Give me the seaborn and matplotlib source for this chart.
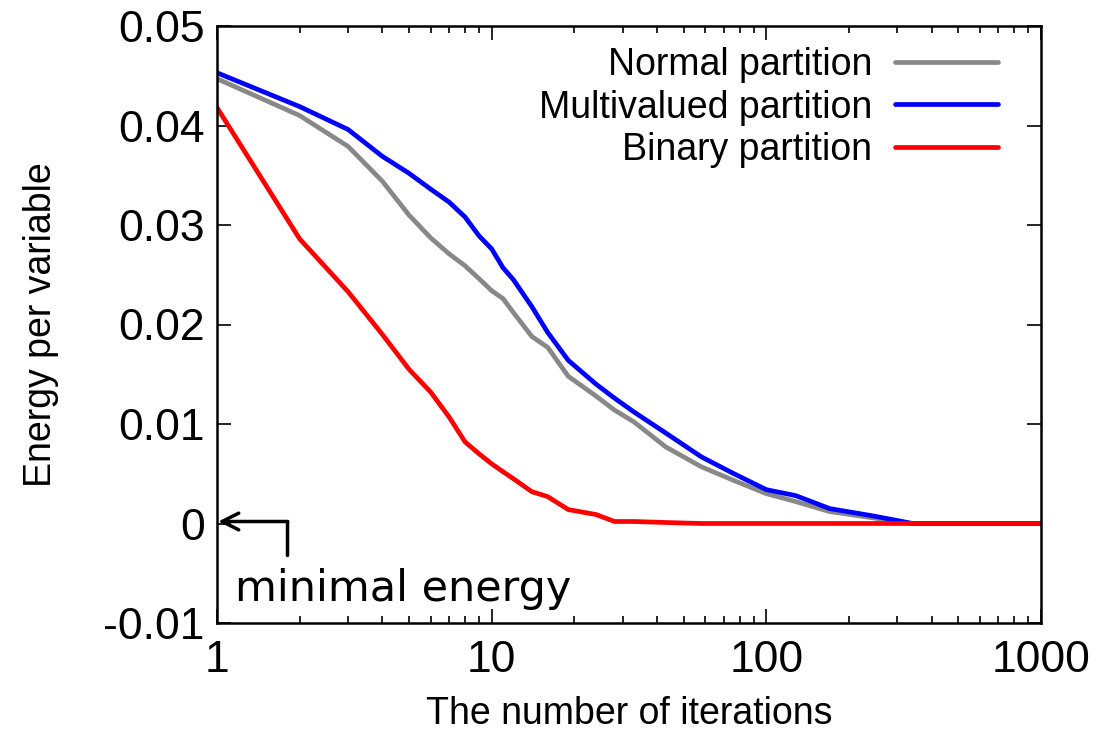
import matplotlib
matplotlib.use("Agg")
import matplotlib.pyplot as plt
import seaborn as sns
import pandas as pd

# iterations (log axis)
iters = [1, 2, 3, 4, 5, 6, 7, 8, 9, 10, 11, 12, 14, 16, 19, 24, 28, 33,
         43, 58, 75, 100, 128, 170, 240, 300, 340, 1000]

normal = [0.0447, 0.0410, 0.0379, 0.0344, 0.0310, 0.0287, 0.0271, 0.0259,
          0.0246, 0.0234, 0.0226, 0.0212, 0.0188, 0.0177, 0.0148, 0.0128,
          0.0114, 0.0102, 0.0077, 0.0057, 0.0044, 0.0030, 0.0022, 0.0012,
          0.0006, 0.0002, 0.0, 0.0]

multivalued = [0.0453, 0.0419, 0.0396, 0.0369, 0.0352, 0.0336, 0.0323,
               0.0308, 0.0289, 0.0276, 0.0257, 0.0245, 0.0218, 0.0192,
               0.0164, 0.0140, 0.0126, 0.0112, 0.0091, 0.0067, 0.0051,
               0.0034, 0.0028, 0.0015, 0.0008, 0.0003, 0.0, 0.0]

binary = [0.0418, 0.0286, 0.0233, 0.0190, 0.0155, 0.0132, 0.0107, 0.0082,
          0.0070, 0.0060, 0.0052, 0.0045, 0.0032, 0.0027, 0.0014, 0.0009,
          0.0002, 0.0002, 0.0001, 0.0, 0.0, 0.0, 0.0, 0.0, 0.0, 0.0, 0.0, 0.0]

series = ["Normal partition", "Multivalued partition", "Binary partition"]
colors = ["#888888", "#0000ff", "#ff0000"]

sns.set_style("ticks")
plt.rcParams["font.family"] = ["Liberation Sans", "DejaVu Sans"]
plt.rcParams["text.color"] = "black"
plt.rcParams["axes.labelcolor"] = "black"
plt.rcParams["xtick.color"] = "black"
plt.rcParams["ytick.color"] = "black"

fig = plt.figure(figsize=(10.98, 7.32), dpi=100)
ax = fig.add_axes([217 / 1098, 1 - 623 / 732, (1041 - 217) / 1098, (623 - 26) / 732])

for name, vals, col in zip(series, [normal, multivalued, binary], colors):
    df = pd.DataFrame({"x": iters, "y": vals})
    sns.lineplot(data=df, x="x", y="y", ax=ax, color=col, lw=3.4, label=name)

ax.set_xscale("log")
ax.set_xlim(1, 1000)
ax.set_ylim(-0.01, 0.05)
ax.set_yticks([-0.01, 0, 0.01, 0.02, 0.03, 0.04, 0.05])
ax.set_yticklabels(["-0.01", "0", "0.01", "0.02", "0.03", "0.04", "0.05"])
ax.set_xticks([1, 10, 100, 1000])
ax.set_xticklabels(["1", "10", "100", "1000"])

ax.tick_params(which="both", direction="in", top=True, right=True,
               labelsize=32, width=1.2)
ax.tick_params(axis="y", pad=9)
ax.tick_params(axis="x", pad=12)
ax.tick_params(which="major", length=10)
ax.tick_params(which="minor", length=5)
for sp in ax.spines.values():
    sp.set_linewidth(1.8)
    sp.set_color("black")

ax.set_xlabel("The number of iterations", fontsize=27, labelpad=11)
ax.set_ylabel("Energy per variable", fontsize=27, labelpad=32)

leg = ax.legend(loc="upper right", bbox_to_anchor=(1 - 19 / 824, 1.006),
                frameon=False, markerfirst=False,
                fontsize=27, handlelength=2.75, handletextpad=0.6,
                labelspacing=0.18, borderaxespad=0.25)

# minimal energy annotation
ax.plot([1.8, 1.8], [-0.0032, 0.0002], color="black", lw=2.5)
ax.annotate("", xy=(1.01, 0.0002), xytext=(1.81, 0.0002),
            arrowprops=dict(arrowstyle="->", color="black", lw=2.5,
                            mutation_scale=30, shrinkA=0, shrinkB=0))
ax.text(1.165, -0.0066, "minimal energy", fontsize=31,
        family="DejaVu Sans", va="center", ha="left")

fig.savefig("out.png", dpi=100)
